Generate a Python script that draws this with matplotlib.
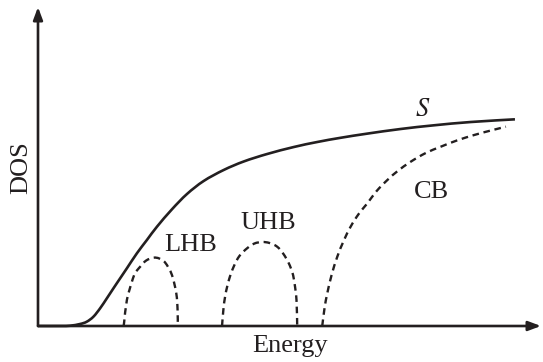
import matplotlib
matplotlib.use("Agg")
import matplotlib.pyplot as plt
from matplotlib.path import Path
from matplotlib.patches import PathPatch

plt.rcParams['font.family'] = ['Liberation Serif', 'DejaVu Serif']
plt.rcParams['mathtext.fontset'] = 'stix'

INK = '#231f20'

# Solid total DOS curve "S"
s_energy = [0, 4.38, 6.37, 8.37, 9.70, 11.02, 12.35, 13.69, 15.00, 16.33, 17.67, 19.66,
            21.65, 23.65, 26.63, 29.62, 32.93, 36.91, 40.90, 45.56, 50.86, 55.52,
            60.16, 65.48, 72.11, 78.75, 86.06, 94.82]
s_dos = [0, 0, 0.09, 0.63, 1.35, 2.92, 5.55, 8.68, 11.82, 14.95, 18.09, 22.79,
         26.96, 31.13, 36.58, 41.38, 45.45, 48.90, 51.57, 53.92, 56.11, 57.68,
         59.00, 60.31, 61.76, 62.92, 63.95, 64.79]

# Lower Hubbard band
lhb_energy = [17.03, 17.13, 17.67, 18.67, 19.32, 20.32, 21.51, 22.97, 24.10, 25.30,
              26.63, 27.49, 27.75, 27.79]
lhb_dos = [0, 1.25, 8.15, 13.89, 16.61, 18.59, 20.53, 21.41, 21.16, 19.84,
           15.99, 10.25, 5.02, 0]

# Upper Hubbard band
uhb_energy = [36.59, 36.85, 37.25, 37.95, 38.90, 40.04, 41.57, 43.03, 44.56, 46.02,
              47.55, 48.80, 49.86, 50.60, 51.00, 51.39, 51.53]
uhb_dos = [0, 5.02, 9.72, 14.42, 18.59, 21.94, 24.36, 25.86, 26.33, 26.02,
           24.86, 22.57, 19.66, 16.61, 13.39, 8.15, 0]

# Conduction band
cb_energy = [56.51, 56.97, 57.51, 58.37, 59.50, 60.76, 62.15, 63.75, 65.48, 67.33,
             69.46, 71.51, 74.10, 77.09, 80.08, 83.27, 86.71, 90.04, 93.03]
cb_dos = [0, 5.64, 10.25, 15.99, 21.72, 26.65, 31.13, 35.11, 38.46, 42.32,
          45.77, 48.59, 51.50, 54.23, 56.21, 58.15, 59.87, 61.29, 62.48]

labels = ['$S$', 'CB', 'UHB', 'LHB']
label_energy = [76.43, 78.3, 45.88, 30.28]
label_dos = [67.71, 42.0, 32.2, 25.4]


def smooth_path(xs, ys):
    """Catmull-Rom curve through the given points, as cubic Bezier segments."""
    pts = list(zip(xs, ys))
    verts = [pts[0]]
    codes = [Path.MOVETO]
    n = len(pts)
    for i in range(n - 1):
        p0 = pts[i - 1] if i > 0 else pts[i]
        p1 = pts[i]
        p2 = pts[i + 1]
        p3 = pts[i + 2] if i + 2 < n else pts[i + 1]
        c1 = (p1[0] + (p2[0] - p0[0]) / 6, p1[1] + (p2[1] - p0[1]) / 6)
        c2 = (p2[0] - (p3[0] - p1[0]) / 6, p2[1] - (p3[1] - p1[1]) / 6)
        verts += [c1, c2, p2]
        codes += [Path.CURVE4] * 3
    return Path(verts, codes)


W, H = 543, 362
fig = plt.figure(figsize=(W / 100, H / 100), dpi=100)
ox, oy = 38, 326
tipx, tipy = 541, 7
ax = fig.add_axes([ox / W, (H - oy) / H, (tipx - ox) / W, (oy - tipy) / H])
ax.set_xlim(0, 100)
ax.set_ylim(0, 100)
ax.axis('off')

ax.add_patch(PathPatch(smooth_path(s_energy, s_dos), facecolor='none', edgecolor=INK,
                       lw=1.9, capstyle='butt', clip_on=False))
dash = (0, (2.8, 2.0))
for e, d in [(lhb_energy, lhb_dos), (uhb_energy, uhb_dos), (cb_energy, cb_dos)]:
    ax.add_patch(PathPatch(smooth_path(e, d), facecolor='none', edgecolor=INK,
                           lw=1.7, linestyle=dash, clip_on=False))

arrow = dict(arrowstyle='-|>,head_length=0.75,head_width=0.28', color=INK, lw=1.9,
             shrinkA=0, shrinkB=0)
ax.annotate('', xy=(1, 0), xytext=(0, 0), xycoords='axes fraction', arrowprops=arrow)
ax.annotate('', xy=(0, 1), xytext=(0, 0), xycoords='axes fraction', arrowprops=arrow)

for t, e, d in zip(labels, label_energy, label_dos):
    ax.text(e, d, t, fontsize=19, color=INK, ha='center', va='center')

fig.text(290 / W, 1 - 346 / H, 'Energy', fontsize=19, color=INK, ha='center', va='center')
fig.text(21 / W, 1 - 168 / H, 'DOS', fontsize=19, color=INK, ha='center', va='center',
         rotation=90)

fig.savefig('out.png', dpi=100)
